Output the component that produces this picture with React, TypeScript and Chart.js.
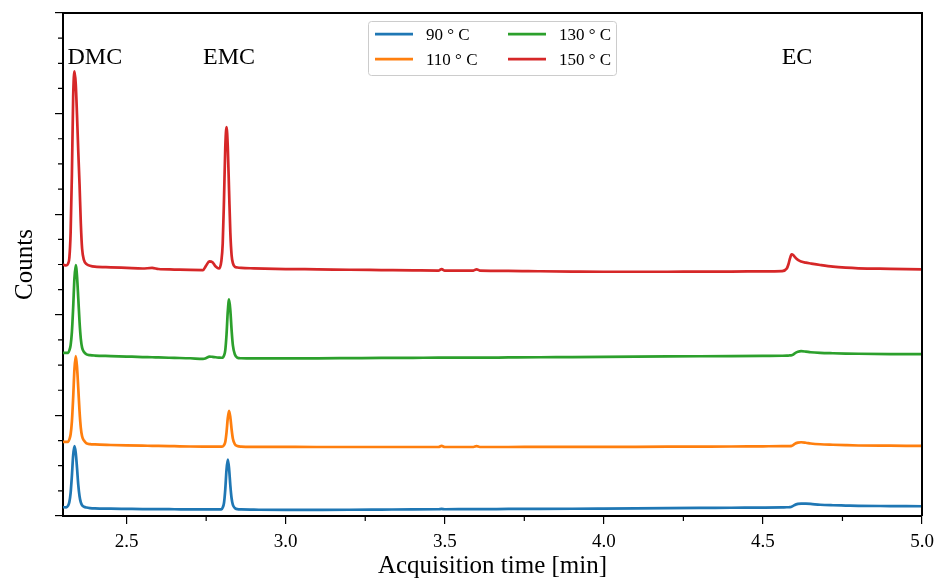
import React, { useEffect, useRef } from "react";
import { Chart, registerables } from "chart.js";

Chart.register(...registerables);

// Acquisition time [min]
const TIME = [
  2.300, 2.310, 2.316, 2.320, 2.324, 2.328, 2.332, 2.336, 2.340, 2.344, 2.348, 2.352, 2.356, 2.360, 2.366, 2.374, 2.385, 2.400,
  2.450, 2.500, 2.550, 2.580, 2.600, 2.650, 2.700, 2.740, 2.750, 2.760, 2.770, 2.780, 2.790,
  2.798, 2.802, 2.806, 2.810, 2.814, 2.818, 2.822, 2.826, 2.830, 2.834, 2.840, 2.848, 2.860, 2.900,
  3.000, 3.100, 3.200, 3.300, 3.400, 3.480, 3.490, 3.500, 3.590, 3.600, 3.610, 3.700, 3.800, 3.900, 4.000, 4.100, 4.200, 4.300, 4.400, 4.500,
  4.560, 4.575, 4.580, 4.585, 4.590, 4.595, 4.600, 4.610, 4.620, 4.635, 4.650, 4.680, 4.720, 4.760, 4.800, 4.900, 5.000,
];

const SERIES_LABELS = ["90 ° C", "110 ° C", "130 ° C", "150 ° C"];

const COUNTS_90 = [
  0.088, 0.086, 0.103, 0.140, 0.231, 0.402, 0.604, 0.694, 0.630, 0.480, 0.310, 0.196, 0.135, 0.107, 0.092, 0.084, 0.079, 0.076,
  0.073, 0.071, 0.069, 0.068, 0.068, 0.067, 0.066, 0.065, 0.065, 0.065, 0.065, 0.065, 0.065,
  0.065, 0.085, 0.129, 0.263, 0.462, 0.561, 0.472, 0.303, 0.174, 0.110, 0.080, 0.068, 0.065, 0.063,
  0.060, 0.061, 0.062, 0.064, 0.066, 0.067, 0.070, 0.067, 0.068, 0.068, 0.068, 0.070, 0.071, 0.072, 0.074, 0.076, 0.078, 0.080, 0.082, 0.084,
  0.086, 0.087, 0.087, 0.088, 0.092, 0.100, 0.110, 0.120, 0.124, 0.123, 0.120, 0.112, 0.107, 0.104, 0.101, 0.099, 0.097,
];

const COUNTS_110 = [
  0.736, 0.736, 0.737, 0.761, 0.812, 0.940, 1.179, 1.460, 1.589, 1.485, 1.270, 1.040, 0.877, 0.792, 0.750, 0.722, 0.714, 0.711,
  0.706, 0.702, 0.699, 0.698, 0.697, 0.694, 0.691, 0.690, 0.690, 0.690, 0.690, 0.690, 0.690,
  0.690, 0.691, 0.704, 0.736, 0.832, 0.974, 1.045, 0.981, 0.860, 0.768, 0.715, 0.696, 0.690, 0.688,
  0.687, 0.686, 0.686, 0.686, 0.686, 0.686, 0.697, 0.686, 0.686, 0.694, 0.686, 0.686, 0.687, 0.687, 0.687, 0.688, 0.689, 0.690, 0.691, 0.693,
  0.694, 0.694, 0.695, 0.695, 0.697, 0.705, 0.717, 0.729, 0.733, 0.728, 0.721, 0.713, 0.708, 0.704, 0.701, 0.699, 0.697,
];

const COUNTS_130 = [
  1.622, 1.621, 1.622, 1.646, 1.699, 1.830, 2.075, 2.364, 2.495, 2.385, 2.165, 1.928, 1.761, 1.674, 1.630, 1.606, 1.599, 1.595,
  1.590, 1.585, 1.580, 1.578, 1.576, 1.572, 1.568, 1.562, 1.570, 1.585, 1.582, 1.578, 1.575,
  1.573, 1.574, 1.595, 1.647, 1.804, 2.036, 2.153, 2.044, 1.846, 1.696, 1.608, 1.574, 1.568, 1.566,
  1.566, 1.567, 1.569, 1.571, 1.572, 1.574, 1.574, 1.574, 1.574, 1.575, 1.574, 1.576, 1.578, 1.580, 1.582, 1.584, 1.586, 1.588, 1.590, 1.592,
  1.593, 1.594, 1.595, 1.596, 1.598, 1.605, 1.617, 1.632, 1.638, 1.634, 1.628, 1.622, 1.618, 1.615, 1.613, 1.610, 1.609,
];

const COUNTS_150 = [
  2.500, 2.490, 2.509, 2.567, 2.818, 3.397, 4.169, 4.420, 4.299, 3.990, 3.624, 3.296, 2.910, 2.659, 2.543, 2.504, 2.488, 2.478,
  2.472, 2.466, 2.460, 2.466, 2.455, 2.450, 2.446, 2.445, 2.490, 2.532, 2.522, 2.480, 2.460,
  2.540, 2.707, 3.140, 3.656, 3.865, 3.665, 3.232, 2.814, 2.591, 2.514, 2.478, 2.470, 2.466, 2.462,
  2.455, 2.452, 2.448, 2.445, 2.442, 2.440, 2.455, 2.440, 2.440, 2.452, 2.440, 2.437, 2.433, 2.430, 2.428, 2.428, 2.428, 2.430, 2.430, 2.432,
  2.435, 2.460, 2.500, 2.560, 2.600, 2.595, 2.575, 2.545, 2.530, 2.518, 2.510, 2.495, 2.478, 2.468, 2.462, 2.457, 2.452,
];

const SERIES_COLORS = ["#1f77b4", "#ff7f0e", "#2ca02c", "#d62728"];

const X_TICKS = [2.5, 3.0, 3.5, 4.0, 4.5, 5.0];
const X_MINOR_TICKS = [2.75, 3.25, 3.75, 4.25, 4.75];
const Y_TICKS = [0, 1, 2, 3, 4, 5];
const Y_MINOR_TICKS = [0.25, 0.5, 0.75, 1.25, 1.5, 1.75, 2.25, 2.5, 2.75, 3.25, 3.5, 3.75, 4.25, 4.5, 4.75];

const PEAK_LABELS = ["DMC", "EMC", "EC"];
const PEAK_LABEL_X = [2.4, 2.822, 4.607];
const PEAK_LABEL_Y = 4.494;

const FONT = "'Liberation Serif', 'Times New Roman', serif";

const decorations = {
  id: "decorations",
  afterDatasetsDraw(chart: any) {
    const { ctx, chartArea: a, scales } = chart;
    const xs = scales.x;
    const ys = scales.y;
    ctx.save();
    // top & right spines
    ctx.strokeStyle = "#000";
    ctx.lineWidth = 2;
    ctx.beginPath();
    ctx.moveTo(a.left, a.top);
    ctx.lineTo(a.right, a.top);
    ctx.lineTo(a.right, a.bottom);
    ctx.stroke();
    // minor ticks
    ctx.lineWidth = 1.2;
    ctx.beginPath();
    X_MINOR_TICKS.forEach((v) => {
      const px = xs.getPixelForValue(v);
      ctx.moveTo(px, a.bottom);
      ctx.lineTo(px, a.bottom + 5);
    });
    Y_MINOR_TICKS.forEach((v) => {
      const py = ys.getPixelForValue(v);
      ctx.moveTo(a.left, py);
      ctx.lineTo(a.left - 5, py);
    });
    ctx.stroke();
    // peak labels
    ctx.fillStyle = "#000";
    ctx.font = `24px ${FONT}`;
    ctx.textAlign = "center";
    ctx.textBaseline = "alphabetic";
    PEAK_LABELS.forEach((t, i) => {
      ctx.fillText(t, xs.getPixelForValue(PEAK_LABEL_X[i]), ys.getPixelForValue(PEAK_LABEL_Y));
    });
    // legend (upper center, 2 columns)
    const w = 248;
    const h = 54;
    const bx = (a.left + a.right) / 2 - w / 2;
    const by = a.top + 8.5;
    ctx.beginPath();
    const r = 3;
    ctx.moveTo(bx + r, by);
    ctx.lineTo(bx + w - r, by);
    ctx.quadraticCurveTo(bx + w, by, bx + w, by + r);
    ctx.lineTo(bx + w, by + h - r);
    ctx.quadraticCurveTo(bx + w, by + h, bx + w - r, by + h);
    ctx.lineTo(bx + r, by + h);
    ctx.quadraticCurveTo(bx, by + h, bx, by + h - r);
    ctx.lineTo(bx, by + r);
    ctx.quadraticCurveTo(bx, by, bx + r, by);
    ctx.closePath();
    ctx.fillStyle = "rgba(255,255,255,0.8)";
    ctx.fill();
    ctx.strokeStyle = "#cccccc";
    ctx.lineWidth = 1;
    ctx.stroke();
    ctx.font = `17px ${FONT}`;
    ctx.textAlign = "left";
    ctx.textBaseline = "middle";
    chart.data.datasets.forEach((ds: any, i: number) => {
      const col = Math.floor(i / 2);
      const row = i % 2;
      const lx = bx + 6.5 + col * 133;
      const ly = by + 12.6 + row * 25;
      ctx.strokeStyle = ds.borderColor;
      ctx.lineWidth = 2.7;
      ctx.beginPath();
      ctx.moveTo(lx, ly);
      ctx.lineTo(lx + 38, ly);
      ctx.stroke();
      ctx.fillStyle = "#000";
      ctx.fillText(ds.label, lx + 51, ly + 1.5);
    });
    ctx.restore();
  },
};

export default function App() {
  const canvasRef = useRef<HTMLCanvasElement | null>(null);

  useEffect(() => {
    const canvas = canvasRef.current;
    if (!canvas) return;
    const seriesValues = [COUNTS_90, COUNTS_110, COUNTS_130, COUNTS_150];
    const chart = new Chart(canvas, {
      type: "line",
      data: {
        datasets: seriesValues.map((vals, i) => ({
          label: SERIES_LABELS[i],
          data: TIME.map((t, j) => ({ x: t, y: vals[j] })),
          borderColor: SERIES_COLORS[i],
          backgroundColor: SERIES_COLORS[i],
          borderWidth: 2.7,
          pointRadius: 0,
          fill: false,
          cubicInterpolationMode: "monotone" as const,
          order: 3 - i,
        })),
      },
      options: {
        animation: false,
        responsive: false,
        events: [],
        layout: { padding: { top: 13, right: 16, left: 0, bottom: 0 } },
        plugins: {
          legend: { display: false },
          tooltip: { enabled: false },
        },
        scales: {
          x: {
            type: "linear",
            min: 2.3,
            max: 5.0,
            afterBuildTicks: (s: any) => {
              s.ticks = X_TICKS.map((v) => ({ value: v }));
            },
            afterFit: (s: any) => {
              s.height = 70;
              s.paddingLeft = 0;
              s.paddingRight = 0;
            },
            ticks: {
              color: "#000",
              font: { family: FONT, size: 19 },
              padding: 7,
              maxRotation: 0,
              autoSkip: false,
              callback: (v: any) => Number(v).toFixed(1),
            },
            grid: { drawOnChartArea: false, drawTicks: true, tickLength: 8, color: "#000", lineWidth: 1.2 },
            border: { display: true, color: "#000", width: 2 },
            title: {
              display: true,
              text: "Acquisition time [min]",
              color: "#000",
              font: { family: FONT, size: 25 },
              padding: { top: 0, bottom: 5 },
            },
          },
          y: {
            type: "linear",
            min: 0,
            max: 5,
            afterBuildTicks: (s: any) => {
              s.ticks = Y_TICKS.map((v) => ({ value: v }));
            },
            afterFit: (s: any) => {
              s.width = 63;
              s.paddingTop = 0;
              s.paddingBottom = 0;
            },
            ticks: { display: false },
            grid: { drawOnChartArea: false, drawTicks: true, tickLength: 8, color: "#000", lineWidth: 1.2 },
            border: { display: true, color: "#000", width: 2 },
            title: {
              display: true,
              text: "Counts",
              color: "#000",
              font: { family: FONT, size: 25 },
              padding: { top: 10, bottom: 0 },
            },
          },
        },
      },
      plugins: [decorations],
    });
    return () => chart.destroy();
  }, []);

  return (
    <div style={{ position: "fixed", left: 0, top: 0, width: 938, height: 586, background: "#fff" }}>
      <canvas ref={canvasRef} width={938} height={586} style={{ display: "block" }} />
    </div>
  );
}
